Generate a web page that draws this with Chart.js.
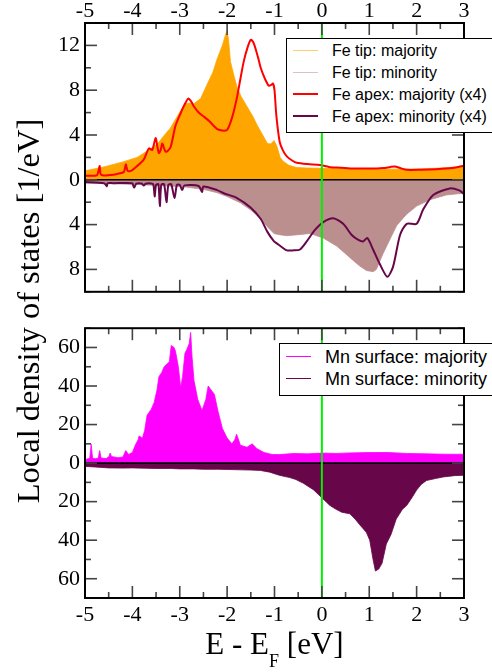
<!DOCTYPE html>
<html>
<head>
<meta charset="utf-8">
<script src="https://cdn.jsdelivr.net/npm/chart.js@4/dist/chart.umd.min.js"></script>
<style>
  html, body { margin: 0; padding: 0; background: #fff; }
  body { position: relative; width: 492px; height: 672px; overflow: hidden; }
  canvas { position: absolute; left: 0; }
  .legend { position: absolute; background: #fff; border: 1.5px solid #000; box-sizing: border-box;
            font-family: "Liberation Sans", Arial, sans-serif; color: #000; white-space: nowrap; }
  .legend .row { position: relative; height: 22px; line-height: 22px; }
  .legend .sw { position: absolute; left: 6px; top: 11px; width: 25px; }
  .legend .tx { position: absolute; left: 45px; top: 0; }
  #ytitle { position: absolute; left: -222px; top: 293px; width: 500px; height: 36px; line-height: 36px;
            text-align: center; font-family: "Liberation Serif", "Times New Roman", serif; font-size: 32.5px;
            transform: rotate(-90deg); transform-origin: 50% 50%; }
  #xtitle { position: absolute; left: 0; top: 628px; width: 549px; text-align: center; line-height: 31px;
            font-family: "Liberation Serif", "Times New Roman", serif; font-size: 31px; }
  #xtitle span { font-size: 18px; position: relative; top: 13px; }
</style>
</head>
<body>
<canvas id="tipChart" width="492" height="310" style="top:0"></canvas>
<canvas id="mnChart" width="492" height="362" style="top:310px"></canvas>
<div id="ytitle">Local density of states [1/eV]</div>
<div id="xtitle">E - E<span>F</span> [eV]</div>
<script>
// ---- energy axis ----
const energyMin = -5, energyMax = 3;

// ---- Fe tip, majority (filled) ----
const feTipMajE = [-5, -4.6, -4.2, -3.9, -3.65, -3.45, -3.33, -3.2, -3.05, -2.95, -2.89, -2.8, -2.7, -2.56, -2.42,
  -2.3, -2.21, -2.1, -2.03, -2.0, -1.97, -1.93, -1.85, -1.79, -1.7, -1.58, -1.45, -1.36, -1.25, -1.15, -1.08,
  -1.01, -0.95, -0.88, -0.82, -0.7, -0.53, -0.3, 0, 0.5, 1.0, 1.5, 2.0, 2.5, 2.84, 3.0];
const feTipMajV = [0.8, 1.15, 1.6, 2.0, 2.67, 3.3, 3.96, 4.6, 5.68, 6.4, 6.8, 6.85, 6.8, 7.25, 8.54,
  9.6, 10.8, 12.0, 13.0, 13.3, 12.5, 10.55, 9.2, 8.26, 7.4, 6.54, 5.6, 4.82, 4.0, 3.24, 3.2,
  3.5, 3.0, 2.0, 1.66, 1.3, 1.09, 1.05, 1.03, 0.98, 0.95, 0.95, 0.97, 1.05, 1.15, 1.15];

// ---- Fe tip, minority (filled, drawn downward) ----
const feTipMinE = [-5, -4.5, -4, -3.5, -3, -2.91, -2.5, -2.21, -2.0, -1.72, -1.5, -1.29, -1.15, -1.01, -0.9,
  -0.74, -0.5, -0.25, 0.03, 0.15, 0.31, 0.5, 0.66, 0.8, 0.94, 1.08, 1.15, 1.29, 1.45, 1.58, 1.79, 2.0,
  2.28, 2.63, 2.98, 3.0];
const feTipMinV = [-0.3, -0.35, -0.4, -0.5, -0.6, -0.63, -0.85, -1.15, -1.5, -2.06, -2.7, -3.5, -4.2, -4.8, -4.9,
  -4.99, -4.9, -4.79, -5.2, -5.5, -5.9, -6.6, -7.2, -7.7, -8.1, -8.2, -8.0, -6.6, -5.2, -4.07, -3.07, -2.35,
  -1.78, -1.35, -1.2, -1.2];

// ---- Fe apex, majority (x4) ----
const feApexMajE = [-5, -4.75, -4.71, -4.69, -4.67, -4.6, -4.4, -4.32, -4.18, -4.14, -4.1, -4.03, -3.9, -3.76,
  -3.69, -3.65, -3.58, -3.51, -3.47, -3.44, -3.4, -3.37, -3.33, -3.3, -3.25, -3.19, -3.09, -2.98, -2.9, -2.82,
  -2.76, -2.7, -2.59, -2.48, -2.38, -2.21, -2.07, -2.0, -1.93, -1.86, -1.79, -1.72, -1.65, -1.57, -1.5, -1.45,
  -1.4, -1.34, -1.29, -1.2, -1.12, -1.06, -1.03, -1.0, -0.96, -0.89, -0.82, -0.74, -0.62, -0.53, -0.3, -0.04,
  0.15, 0.31, 0.6, 1.01, 1.3, 1.45, 1.54, 1.65, 1.79, 2.1, 2.42, 2.75, 2.98, 3.0];
const feApexMajV = [0.37, 0.4, 0.9, 1.23, 0.5, 0.38, 0.45, 0.53, 0.7, 1.38, 0.8, 0.8, 1.23, 1.8,
  2.5, 2.81, 2.67, 3.73, 2.9, 2.38, 2.7, 3.24, 2.8, 2.52, 2.6, 2.95, 4.82, 5.96, 6.7, 7.25,
  7.0, 6.54, 5.96, 5.6, 5.25, 4.53, 4.39, 4.45, 5.1, 6.1, 7.4, 9.0, 10.55, 11.8, 12.5, 12.3,
  11.7, 10.8, 9.98, 9.0, 8.4, 8.5, 8.6, 8.0, 5.68, 3.38, 2.6, 2.09, 1.7, 1.52, 1.4, 1.32,
  1.15, 1.09, 1.02, 1.0, 1.05, 1.15, 1.18, 1.05, 0.89, 0.9, 0.95, 1.05, 1.23, 1.2];

// ---- Fe apex, minority (x4, drawn downward) ----
const feApexMinE = [-5, -4.6, -4.56, -4.54, -4.52, -4.4, -4.0, -3.98, -3.96, -3.92, -3.86, -3.8, -3.76, -3.72,
  -3.65, -3.56, -3.53, -3.5, -3.45, -3.42, -3.39, -3.33, -3.28, -3.24, -3.18, -3.11, -3.06, -3.0, -2.95, -2.9,
  -2.6, -2.53, -2.5, -2.21, -2.07, -1.79, -1.5, -1.29, -1.15, -1.01, -0.96, -0.85, -0.74, -0.6, -0.46, -0.32,
  -0.15, 0.03, 0.24, 0.45, 0.63, 0.77, 0.87, 0.96, 1.08, 1.22, 1.38, 1.5, 1.65, 1.79, 2.0, 2.14, 2.35, 2.7,
  2.9, 3.0];
const feApexMinV = [-0.2, -0.3, -0.45, -0.57, -0.3, -0.3, -0.3, -0.55, -0.69, -0.35, -0.3, -0.35, -0.5, -0.35,
  -0.3, -0.4, -1.49, -0.45, -0.4, -2.35, -0.45, -0.4, -2.0, -0.45, -0.4, -1.63, -0.45, -0.45, -0.92, -0.5,
  -0.55, -1.1, -0.6, -0.92, -1.2, -1.63, -2.5, -3.5, -4.65, -5.5, -5.65, -6.0, -6.3, -6.3, -6.22, -5.5,
  -4.5, -3.78, -3.44, -3.93, -4.93, -5.36, -5.5, -5.2, -6.22, -7.5, -8.66, -7.8, -4.93, -3.93, -3.93, -2.64, -1.35, -0.77,
  -0.95, -1.26];

// ---- Mn surface, majority (filled) ----
const mnMajE = [-5, -4.9, -4.87, -4.84, -4.78, -4.72, -4.69, -4.66, -4.55, -4.49, -4.47, -4.44, -4.3, -4.2, -4.14,
  -4.08, -4.0, -3.93, -3.88, -3.86, -3.82, -3.79, -3.74, -3.69, -3.6, -3.54, -3.48, -3.44, -3.38, -3.33, -3.26,
  -3.22, -3.18, -3.12, -3.09, -3.03, -2.98, -2.94, -2.89, -2.85, -2.8, -2.77, -2.74, -2.7, -2.62, -2.53, -2.45,
  -2.4, -2.31, -2.27, -2.19, -2.1, -2.0, -1.9, -1.84, -1.8, -1.75, -1.72, -1.58, -1.47, -1.37, -1.22, -1.05,
  -0.9, -0.6, -0.3, 0, 0.3, 0.6, 1.0, 1.4, 1.8, 2.2, 2.6, 3.0];
const mnMajV = [1.8, 2.5, 9.8, 2.5, 2.3, 2.6, 6.5, 2.6, 2.4, 3.5, 5.2, 3.4, 2.8, 3.2, 6.5,
  4.5, 5.5, 9.8, 12, 14, 13.5, 12.8, 17, 24.8, 28, 31.5, 38, 44.8, 47, 50, 51.7,
  52.5, 61, 60, 58, 50, 39, 45, 57, 59, 62, 67.8, 55, 43, 33, 27.3, 33,
  40, 37, 35.7, 26.7, 18, 13, 10, 12, 15, 11.5, 9.3, 8.2, 10, 7.5, 5.5, 4.5,
  4.4, 5.0, 4.8, 5.2, 5.0, 5.3, 5.5, 5.5, 5.0, 4.8, 4.6, 4.6];

// ---- Mn surface, minority (filled, drawn downward) ----
const mnMinE = [-5, -4.8, -4.5, -4.2, -4.0, -3.7, -3.5, -3.2, -3.0, -2.7, -2.5, -2.2, -2.0, -1.7, -1.5, -1.3,
  -1.1, -0.9, -0.68, -0.55, -0.39, -0.18, 0, 0.17, 0.3, 0.42, 0.59, 0.7, 0.8, 0.94, 1.01, 1.08, 1.13, 1.2,
  1.27, 1.36, 1.46, 1.57, 1.7, 1.79, 1.9, 2.0, 2.1, 2.21, 2.4, 2.56, 2.8, 3.0];
const mnMinV = [-1.7, -2.0, -2.5, -2.6, -2.5, -2.7, -2.8, -2.8, -3.0, -3.0, -3.2, -3.2, -3.3, -3.5, -3.6, -3.8,
  -4.7, -6.3, -7.5, -8.5, -10.5, -13.8, -18, -22, -24, -25.5, -26.3, -29, -32, -36, -40, -50, -56, -55,
  -52, -42, -37, -29, -24, -22, -18, -14, -11, -9, -8, -7.2, -6.5, -6.3];

// ---- tick layout of the two panels ----
const energyStep = 0.5;
const tipRange = [-10, 14], tipStep = 2, tipLabelStep = 4;
const mnRange = [-70, 70], mnStep = 10, mnLabelStep = 20;

// ---- series styling ----
const colOrange = '#ffa500', colRosy = '#bc8f8f', colRed = '#ff0000', colMaroon = '#67074a',
      colMagenta = '#ff00ff', colFermi = '#00f000';

// axis numbers in a Times-like face
const tickFont = { family: "'Liberation Serif', 'Times New Roman', serif", size: 22 };

const toPoints = (xs, ys) => xs.map((x, i) => ({ x, y: ys[i] }));
const swatches = new Map();

function filled(label, xs, ys, color, swatch) {
  swatches.set(label, swatch);
  return { label, data: toPoints(xs, ys), fill: 'origin', backgroundColor: color, borderColor: color,
           borderWidth: 0.8, pointRadius: 0, tension: 0, order: 2 };
}
function curve(label, xs, ys, color) {
  swatches.set(label, { color, width: 2.5, alpha: 1 });
  return { label, data: toPoints(xs, ys), fill: false, borderColor: color, borderWidth: 2,
           pointRadius: 0, tension: 0.25, order: 1 };
}

// inward major/minor ticks, zero line, Fermi level and frame
const framePlugin = {
  id: 'frame',
  afterDatasetsDraw(chart, args, opts) {
    const { ctx, chartArea: a, scales: { x, y } } = chart;
    const seg = (x1, y1, x2, y2) => { ctx.beginPath(); ctx.moveTo(x1, y1); ctx.lineTo(x2, y2); ctx.stroke(); };
    ctx.save();
    const y0 = y.getPixelForValue(0);
    ctx.strokeStyle = '#000'; ctx.lineWidth = 1.6;
    seg(a.left, y0, a.right, y0);
    const xf = x.getPixelForValue(0);
    ctx.strokeStyle = colFermi; ctx.lineWidth = 2;
    seg(xf, a.top, xf, a.bottom);
    ctx.strokeStyle = '#444'; ctx.lineWidth = 1.6;
    x.ticks.forEach(t => {
      const px = x.getPixelForValue(t.value);
      const len = Number.isInteger(t.value) ? 12 : 6;
      seg(px, a.top, px, a.top + len);
      seg(px, a.bottom, px, a.bottom - len);
    });
    y.ticks.forEach(t => {
      const py = y.getPixelForValue(t.value);
      const len = (t.value % opts.major === 0) ? 12 : 6;
      seg(a.left, py, a.left + len, py);
      seg(a.right, py, a.right - len, py);
    });
    ctx.strokeStyle = '#000'; ctx.lineWidth = 2;
    ctx.strokeRect(a.left, a.top, a.right - a.left, a.bottom - a.top);
    ctx.restore();
  }
};

function makePanel(canvasId, datasets, range, step, labelStep, xPos, pad, xHeight, xPad) {
  return new Chart(document.getElementById(canvasId), {
    type: 'line',
    data: { datasets },
    options: {
      responsive: false, animation: false, devicePixelRatio: 1,
      layout: { padding: pad },
      plugins: { legend: { display: false }, tooltip: { enabled: false }, frame: { major: labelStep } },
      scales: {
        x: {
          type: 'linear', position: xPos, min: energyMin, max: energyMax,
          grid: { display: false, drawTicks: false }, border: { display: false },
          ticks: { stepSize: energyStep, autoSkip: false, maxRotation: 0, color: '#000', font: tickFont,
                   padding: xPad, callback: v => Number.isInteger(v) ? String(v) : '' },
          afterFit: s => { s.height = xHeight; }
        },
        y: {
          type: 'linear', min: range[0], max: range[1],
          grid: { display: false, drawTicks: false }, border: { display: false },
          ticks: { stepSize: step, autoSkip: false, color: '#000', font: tickFont, padding: 5,
                   callback: v => (v % labelStep === 0) ? String(Math.abs(v)) : '' },
          afterFit: s => { s.width = 85; }
        }
      }
    },
    plugins: [framePlugin]
  });
}

const tipSets = [
  filled('Fe tip: majority', feTipMajE, feTipMajV, colOrange, { color: colOrange, width: 1.5, alpha: 0.55 }),
  filled('Fe tip: minority', feTipMinE, feTipMinV, colRosy, { color: colRosy, width: 1.5, alpha: 0.55 }),
  curve('Fe apex: majority (x4)', feApexMajE, feApexMajV, colRed),
  curve('Fe apex: minority (x4)', feApexMinE, feApexMinV, colMaroon)
];
const mnSets = [
  filled('Mn surface: majority', mnMajE, mnMajV, colMagenta, { color: colMagenta, width: 1.2, alpha: 1 }),
  filled('Mn surface: minority', mnMinE, mnMinV, colMaroon, { color: colMaroon, width: 1.2, alpha: 1 })
];

makePanel('tipChart', tipSets, tipRange, tipStep, tipLabelStep, 'top', { left: 0, right: 28, top: 0, bottom: 9 }, 23, -1);
makePanel('mnChart', mnSets, mnRange, mnStep, mnLabelStep, 'bottom', { left: 0, right: 28, top: 9, bottom: 0 }, 74, 4);

// legend boxes built from the dataset labels and colours
function legendBox(sets, left, top, height, fontSize, padTop) {
  const box = document.createElement('div');
  box.className = 'legend';
  Object.assign(box.style, { left: left + 'px', top: top + 'px', width: '240px', height: height + 'px',
                             fontSize: fontSize + 'px', paddingTop: padTop + 'px' });
  sets.forEach(d => {
    const s = swatches.get(d.label);
    const row = document.createElement('div'); row.className = 'row';
    const sw = document.createElement('div'); sw.className = 'sw';
    Object.assign(sw.style, { borderTop: s.width + 'px solid ' + s.color, opacity: s.alpha,
                              marginTop: (-s.width / 2) + 'px' });
    const tx = document.createElement('div'); tx.className = 'tx'; tx.textContent = d.label;
    row.appendChild(sw); row.appendChild(tx); box.appendChild(row);
  });
  document.body.appendChild(box);
}
legendBox(tipSets, 286, 38, 95, 16, 0.5);
legendBox(mnSets, 279, 343, 53, 18, 2);
</script>
</body>
</html>
